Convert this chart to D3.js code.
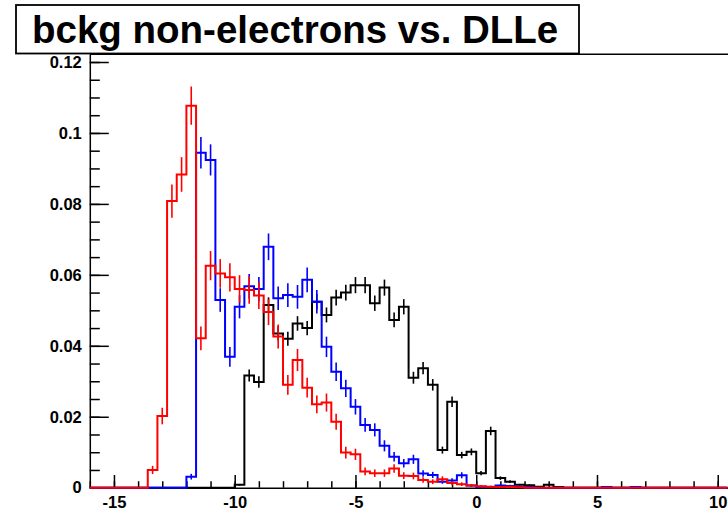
<!DOCTYPE html>
<html>
<head>
<meta charset="utf-8">
<script src="https://cdn.jsdelivr.net/npm/d3@7"></script>
<style>
  html, body { margin: 0; padding: 0; background: #fff; }
  svg { display: block; }
</style>
</head>
<body>
<svg id="chart" width="728" height="515"></svg>
<script>
// Title and binning of the DLLe histograms
const titleText = "bckg non-electrons vs. DLLe";
const binLow = -16;
const binWidth = 0.4;
const nBins = 66;

// Axis ticks
const xMajorTicks = [-15, -10, -5, 0, 5, 10];
const xMinorTicks = d3.range(-16, 11, 1);
const yMajorTicks = [0, 0.02, 0.04, 0.06, 0.08, 0.1, 0.12];
const yMinorTicks = d3.range(0, 0.1225, 0.005);

// Normalised bin contents, one value per bin starting at binLow
const redValues = [
  0, 0, 0, 0, 0, 0,
  0.0050, 0.0202, 0.0808, 0.0883, 0.1077, 0.0421, 0.0626, 0.0604, 0.0593, 0.0560, 0.0557, 0.0542, 0.0495, 0.0426,
  0.0290, 0.0360, 0.0282, 0.0235, 0.0240, 0.0186, 0.0099, 0.0094, 0.0046, 0.0041,
  0.0041, 0.0054, 0.0034, 0.0033, 0.0022, 0.0017, 0.0024, 0.0013, 0.0010, 0.0006,
  0.0004, 0.0003, 0.0002, 0.0003, 0.0001,
  0, 0, 0, 0, 0, 0, 0, 0, 0, 0, 0, 0, 0, 0, 0, 0, 0, 0, 0, 0, 0
];
const blueValues = [
  0, 0, 0, 0, 0, 0, 0, 0, 0, 0,
  0.0031, 0.0944, 0.0924, 0.0529, 0.0369, 0.0510, 0.0568, 0.0560, 0.0679, 0.0534,
  0.0543, 0.0538, 0.0586, 0.0524, 0.0397, 0.0327, 0.0280, 0.0228, 0.0177, 0.0163,
  0.0118, 0.0087, 0.0069, 0.0080, 0.0040, 0.0036, 0.0017, 0.0020, 0.0035, 0.0006,
  0.0003, 0.0002, 0.0006, 0.0005, 0.0003, 0.0002, 0, 0, 0, 0,
  0, 0, 0, 0.0002, 0, 0, 0.0002, 0, 0, 0,
  0, 0, 0, 0, 0, 0
];
const blackValues = [
  0, 0, 0, 0, 0, 0, 0, 0, 0, 0,
  0, 0, 0, 0, 0, 0.0008, 0.0316, 0.0298, 0.0515, 0.0435,
  0.0420, 0.0463, 0.0450, 0.0524, 0.0487, 0.0536, 0.0550, 0.0571, 0.0571, 0.0520,
  0.0564, 0.0473, 0.0510, 0.0310, 0.0337, 0.0290, 0.0106, 0.0242, 0.0092, 0.0101,
  0.0041, 0.0160, 0.0027, 0.0017, 0.0008, 0.0007, 0.0003, 0.0008, 0.0002, 0,
  0, 0, 0, 0, 0, 0, 0, 0, 0, 0, 0, 0, 0, 0, 0, 0
];

// Number of entries behind each normalised histogram (sets the error bars)
const redEntries = 3700;
const blueEntries = 4800;
const blackEntries = 11000;

const series = [
  { values: blackValues, entries: blackEntries, color: "#000000" },
  { values: blueValues, entries: blueEntries, color: "#0000ff" },
  { values: redValues, entries: redEntries, color: "#ff0000" }
];

const svg = d3.select("#chart");
const fontFamily = "'Liberation Sans', Arial, Helvetica, sans-serif";

const xMax = binLow + nBins * binWidth;
const x = d3.scaleLinear().domain([binLow, xMax]).range([89.8, 727.4]);
const y = d3.scaleLinear().domain([0, 0.1222]).range([487.7, 54.2]);

// Frame top line
svg.append("line")
  .attr("x1", x(binLow)).attr("x2", 728)
  .attr("y1", y.range()[1]).attr("y2", y.range()[1])
  .attr("stroke", "#000").attr("stroke-width", 1.5);

// Y axis: major ticks with labels, minor ticks without
const yAxisG = svg.append("g").attr("transform", `translate(${x(binLow)},0)`);
yAxisG.append("g")
  .call(d3.axisLeft(y).tickValues(yMinorTicks).tickSizeInner(-10).tickSizeOuter(0).tickFormat(""))
  .call(g => g.select(".domain").remove());
yAxisG.append("g")
  .call(d3.axisLeft(y).tickValues(yMajorTicks).tickSizeInner(-19).tickSizeOuter(0).tickPadding(8)
    .tickFormat(d => d3.format("~g")(d)));

// X axis
const xAxisG = svg.append("g").attr("transform", `translate(0,${y(0)})`);
xAxisG.append("g")
  .call(d3.axisBottom(x).tickValues(xMinorTicks).tickSizeInner(-6.5).tickSizeOuter(0).tickFormat(""))
  .call(g => g.select(".domain").remove());
xAxisG.append("g")
  .call(d3.axisBottom(x).tickValues(xMajorTicks).tickSizeInner(-12.7).tickSizeOuter(0).tickPadding(9)
    .tickFormat(d => String(d)));

svg.selectAll(".domain").attr("stroke", "#000").attr("stroke-width", 1.5);
svg.selectAll(".tick line").attr("stroke", "#000").attr("stroke-width", 1.5);
svg.selectAll(".tick text")
  .attr("font-family", fontFamily)
  .attr("font-weight", "bold")
  .attr("font-size", 16.5)
  .attr("fill", "#000");

// Histograms: step outline plus statistical error bars
const stepLine = d3.line()
  .x(d => x(d[0]))
  .y(d => y(d[1]))
  .curve(d3.curveStepAfter);

series.forEach(s => {
  const pts = s.values.map((v, i) => [binLow + i * binWidth, v]);
  pts.push([xMax, s.values[s.values.length - 1]]);
  const g = svg.append("g");
  g.append("path")
    .attr("d", stepLine(pts))
    .attr("fill", "none")
    .attr("stroke", s.color)
    .attr("stroke-width", 2);

  const bins = s.values
    .map((v, i) => ({ c: binLow + (i + 0.5) * binWidth, v, e: Math.sqrt(v / s.entries) }))
    .filter(d => d.v > 0);
  g.selectAll("line.err")
    .data(bins)
    .join("line")
    .attr("class", "err")
    .attr("x1", d => x(d.c)).attr("x2", d => x(d.c))
    .attr("y1", d => y(Math.max(0, d.v - d.e)))
    .attr("y2", d => y(d.v + d.e))
    .attr("stroke", s.color)
    .attr("stroke-width", 1.6);
});

// Title box
svg.append("rect")
  .attr("x", 16).attr("y", 5)
  .attr("width", 563).attr("height", 48.5)
  .attr("fill", "#fff")
  .attr("stroke", "#000")
  .attr("stroke-width", 1.8);
svg.append("text")
  .attr("x", 32).attr("y", 43)
  .attr("font-family", fontFamily)
  .attr("font-weight", "bold")
  .attr("font-size", 38.5)
  .attr("fill", "#000")
  .text(titleText);
</script>
</body>
</html>
